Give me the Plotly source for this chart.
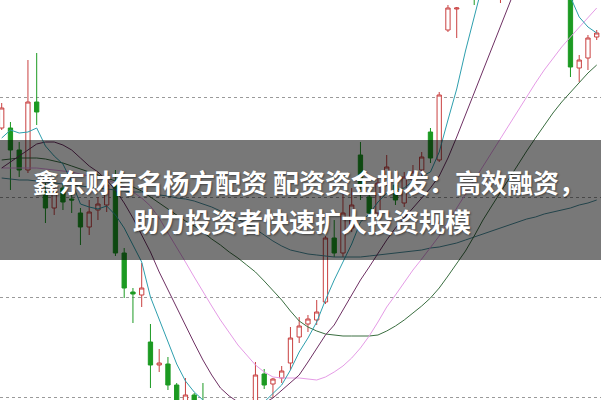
import plotly.graph_objects as go

# ---- data (price units) ----
days = list(range(69))

open_ = [12.69, 12.69, 12.47, 12.27, 12.95, 12.05, 11.89, 12.09, 11.98, 11.84,
         11.70, 11.87, 11.92, 12.12, 11.44, 11.05, 11.02, 10.55, 10.32, 10.33,
         10.12, 9.92, 10.02, 9.95, 9.82, 9.67, 9.52, 9.57, 9.67, 9.92,
         10.23, 10.13, 10.19, 10.34, 10.60, 10.73, 10.77, 10.95, 11.59, 11.44,
         11.69, 12.42, 12.00, 11.84, 12.14, 12.12, 11.94, 12.17, 12.27, 12.65,
         12.37, 13.67, 13.88, 14.02, 14.37, 14.12, 14.57, 14.17, 14.67, 14.87,
         14.72, 14.92, 14.57, 14.67, 14.42, 14.47, 13.29, 13.39, 13.60]
high = [12.94, 12.75, 12.55, 13.37, 13.44, 12.14, 12.12, 12.14, 12.05, 11.89,
        11.97, 12.00, 12.22, 12.27, 11.49, 11.09, 11.34, 10.73, 10.48, 10.40,
        10.14, 10.19, 10.04, 10.14, 9.92, 9.72, 9.67, 9.82, 9.93, 10.35,
        10.28, 10.19, 10.31, 10.70, 10.80, 10.82, 10.97, 11.61, 11.77, 12.05,
        12.09, 12.55, 12.05, 12.19, 12.42, 12.27, 12.25, 12.32, 12.45, 12.69,
        13.05, 13.92, 13.90, 14.47, 14.52, 14.72, 14.97, 14.77, 15.07, 15.17,
        15.02, 15.12, 14.87, 14.82, 14.67, 14.57, 13.42, 13.62, 13.67]
low = [12.67, 12.07, 12.20, 12.24, 12.72, 11.74, 11.82, 11.87, 11.84, 11.52,
       11.62, 11.77, 11.85, 11.41, 10.99, 10.74, 10.90, 10.09, 10.25, 10.07,
       9.87, 9.87, 9.82, 9.77, 9.57, 9.42, 9.37, 9.47, 9.57, 9.87,
       10.08, 10.00, 10.14, 10.27, 10.54, 10.65, 10.72, 10.93, 11.40, 11.40,
       11.65, 11.97, 11.80, 11.81, 12.11, 11.92, 11.90, 12.12, 12.20, 12.34,
       12.35, 13.65, 13.59, 14.00, 13.92, 14.07, 14.17, 13.94, 14.57, 14.67,
       14.57, 14.52, 14.37, 14.27, 14.17, 13.20, 13.15, 13.27, 13.57]
close = [12.89, 12.47, 12.27, 12.95, 12.85, 11.89, 12.05, 11.95, 11.97, 11.70,
         11.85, 11.93, 12.12, 11.44, 11.09, 11.03, 11.09, 10.32, 10.34, 10.12,
         9.92, 10.02, 9.87, 9.82, 9.67, 9.52, 9.57, 9.72, 9.85, 10.22,
         10.12, 10.18, 10.26, 10.59, 10.71, 10.78, 10.85, 11.59, 11.44, 11.84,
         11.92, 12.12, 11.84, 12.14, 12.30, 11.97, 12.20, 12.25, 12.40, 12.39,
         13.02, 13.89, 13.89, 14.37, 14.12, 14.57, 14.22, 14.67, 14.87, 14.72,
         14.92, 14.57, 14.67, 14.42, 14.52, 13.30, 13.37, 13.59, 13.64]

ma5 = [12.59, 12.67, 12.64, 12.65, 12.69, 12.51, 12.41, 12.33, 12.15, 11.93,
       11.90, 11.88, 11.91, 11.82, 11.69, 11.52, 11.35, 11.00, 10.77, 10.55,
       10.33, 10.16, 10.05, 9.97, 9.85, 9.73, 9.65, 9.67, 9.77, 9.87,
       9.95, 10.03, 10.12, 10.27, 10.45, 10.59, 10.75, 10.97, 11.17, 11.35,
       11.53, 11.75, 11.83, 11.95, 12.04, 12.07, 12.09, 12.16, 12.21, 12.25,
       12.45, 12.77, 13.08, 13.46, 13.80, 14.14, 14.40, 14.57, 14.67, 14.72,
       14.69, 14.62, 14.52, 14.42, 14.25, 14.00, 13.80, 13.70, 13.64]
ma10 = [12.29, 12.35, 12.41, 12.47, 12.53, 12.55, 12.55, 12.52, 12.47, 12.39,
        12.31, 12.25, 12.17, 12.07, 11.94, 11.79, 11.62, 11.45, 11.25, 11.07,
        10.89, 10.72, 10.54, 10.37, 10.22, 10.09, 10.01, 9.95, 9.92, 9.92,
        9.94, 9.99, 10.07, 10.14, 10.22, 10.35, 10.49, 10.62, 10.72, 10.87,
        11.02, 11.17, 11.30, 11.44, 11.57, 11.69, 11.79, 11.89, 11.99, 12.09,
        12.21, 12.39, 12.60, 12.82, 13.04, 13.27, 13.49, 13.72, 13.92, 14.15,
        14.37, 14.54, 14.67, 14.76, 14.81, 14.82, 14.77, 14.69, 14.59]
ma20 = [12.29, 12.29, 12.29, 12.29, 12.29, 12.28, 12.27, 12.26, 12.25, 12.23,
        12.21, 12.19, 12.17, 12.14, 12.10, 12.05, 11.99, 11.91, 11.79, 11.64,
        11.50, 11.35, 11.20, 11.05, 10.91, 10.77, 10.64, 10.52, 10.42, 10.32,
        10.25, 10.20, 10.19, 10.19, 10.19, 10.18, 10.17, 10.20, 10.25, 10.31,
        10.39, 10.49, 10.61, 10.75, 10.90, 11.02, 11.15, 11.27, 11.38, 11.49,
        11.61, 11.75, 11.89, 12.03, 12.17, 12.31, 12.45, 12.59, 12.73, 12.87,
        13.01, 13.14, 13.27, 13.39, 13.50, 13.60, 13.70, 13.80, 13.89]
ma30 = [12.37, 12.38, 12.39, 12.39, 12.39, 12.38, 12.36, 12.34, 12.31, 12.28,
        12.25, 12.22, 12.19, 12.16, 12.13, 12.10, 12.06, 12.00, 11.94, 11.88,
        11.82, 11.76, 11.71, 11.65, 11.58, 11.52, 11.45, 11.39, 11.32, 11.25,
        11.16, 11.07, 10.97, 10.86, 10.76, 10.70, 10.66, 10.63, 10.62, 10.61,
        10.61, 10.61, 10.61, 10.62, 10.66, 10.71, 10.77, 10.84, 10.91, 10.99,
        11.09, 11.21, 11.33, 11.46, 11.61, 11.77, 11.91, 12.05, 12.19, 12.33,
        12.46, 12.59, 12.72, 12.84, 12.95, 13.05, 13.15, 13.24, 13.32]
ma60 = [12.19, 12.18, 12.17, 12.17, 12.16, 12.15, 12.14, 12.13, 12.12, 12.11,
        12.10, 12.09, 12.08, 12.07, 12.06, 12.05, 12.05, 12.04, 12.02, 12.01,
        11.99, 11.98, 11.96, 11.93, 11.90, 11.86, 11.82, 11.78, 11.73, 11.68,
        11.62, 11.56, 11.51, 11.47, 11.45, 11.43, 11.42, 11.41, 11.40, 11.40,
        11.40, 11.40, 11.41, 11.42, 11.43, 11.44, 11.45, 11.46, 11.47, 11.49,
        11.50, 11.52, 11.54, 11.57, 11.60, 11.63, 11.66, 11.69, 11.72, 11.75,
        11.78, 11.80, 11.83, 11.85, 11.87, 11.89, 11.92, 11.94, 11.97]

grid_levels = [10, 11, 12, 13]
title_line1 = "鑫东财有名杨方配资 配资资金批发：高效融资，"
title_line2 = "助力投资者快速扩大投资规模"

# ---- figure ----
fig = go.Figure()

fig.add_trace(go.Candlestick(
    x=days, open=open_, high=high, low=low, close=close,
    increasing=dict(line=dict(color="#c94040", width=1), fillcolor="#ffffff"),
    decreasing=dict(line=dict(color="#1c9a22", width=1), fillcolor="#1c9a22"),
    whiskerwidth=0, hoverinfo="skip", showlegend=False,
))

line_specs = [
    (ma60, "#4a8f9e"),
    (ma30, "#3a6e40"),
    (ma20, "#e59be6"),
    (ma10, "#6e3063"),
    (ma5, "#2e9fae"),
]
for vals, col in line_specs:
    fig.add_trace(go.Scatter(x=days, y=vals, mode="lines",
                             line=dict(color=col, width=1),
                             hoverinfo="skip", showlegend=False))

fig.add_shape(type="rect", xref="paper", yref="paper",
              x0=0, x1=1, y0=0.35, y1=0.65,
              fillcolor="rgba(0,0,0,0.53)", line=dict(width=0), layer="above")

font_cjk = "Noto Sans CJK SC, Noto Sans, sans-serif"
fig.add_annotation(text=title_line1, xref="paper", yref="paper",
                   x=31 / 601, y=1 - 181 / 400, xanchor="left", yanchor="middle",
                   showarrow=False,
                   font=dict(family=font_cjk, size=26, color="white", weight="bold",
                             shadow="1px 1px 2px rgba(0,0,0,0.45)"))
fig.add_annotation(text=title_line2, xref="paper", yref="paper",
                   x=131 / 601, y=1 - 220 / 400, xanchor="left", yanchor="middle",
                   showarrow=False,
                   font=dict(family=font_cjk, size=26, color="white", weight="bold",
                             shadow="1px 1px 2px rgba(0,0,0,0.45)"))

fig.update_layout(
    width=601, height=400,
    margin=dict(l=0, r=0, t=0, b=0),
    paper_bgcolor="white", plot_bgcolor="white",
    showlegend=False, hovermode=False, boxgap=0.3,
    xaxis=dict(range=[-0.194, 68.49], showgrid=False, zeroline=False,
               showticklabels=False, ticks="", rangeslider=dict(visible=False),
               fixedrange=True),
    yaxis=dict(range=[9.97, 13.97], tickvals=grid_levels, showticklabels=False,
               ticks="", showgrid=True, gridcolor="#9a9a9a", griddash="dot",
               gridwidth=1, zeroline=False, fixedrange=True),
)

fig.write_html("out.html", config={"displayModeBar": False})

# remove the default page margin so the chart fills the window
with open("out.html", "r", encoding="utf-8") as f:
    html = f.read()
html = html.replace("<head>", "<head><style>html,body{margin:0;padding:0;overflow:hidden;}</style>", 1)
with open("out.html", "w", encoding="utf-8") as f:
    f.write(html)
